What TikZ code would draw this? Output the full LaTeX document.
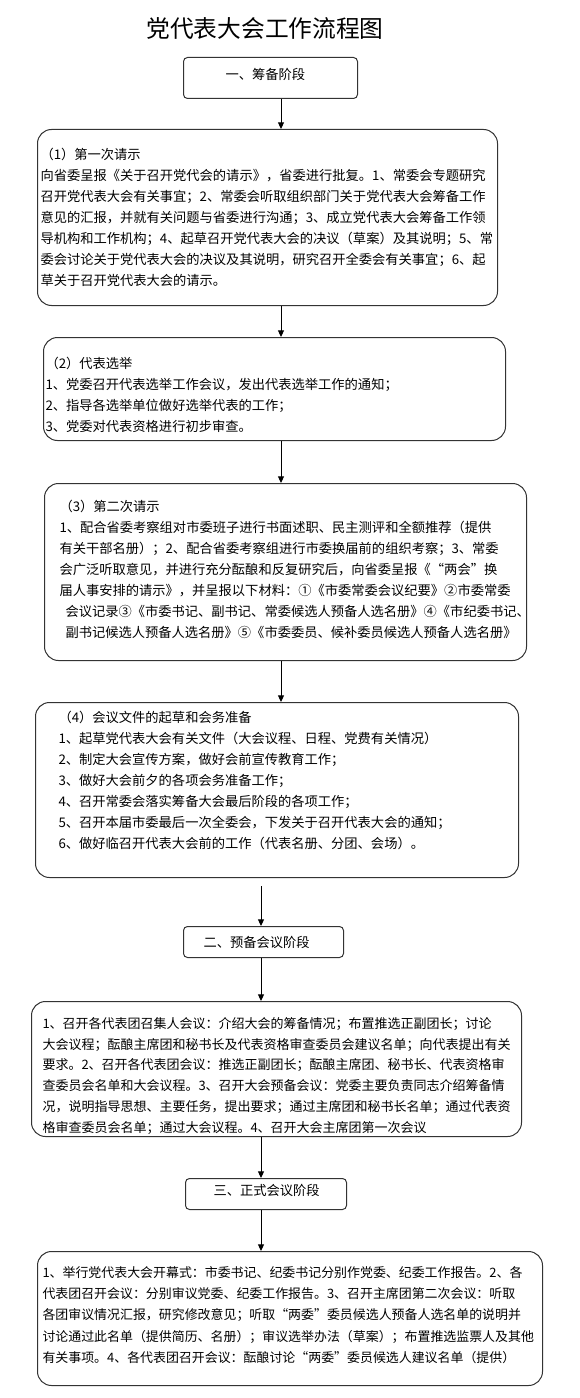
\documentclass[tikz,border=0pt]{standalone}
\usepackage{fontspec}
\setmainfont{Noto Sans CJK SC}
\usetikzlibrary{arrows.meta}
\setlength{\parindent}{0pt}
\newcommand{\padtop}[1]{\rule{0pt}{#1}}
\newcommand{\padbot}[1]{\rule[-#1]{0pt}{0pt}}
\begin{document}
\begin{tikzpicture}[x=0.75pt, y=-0.75pt, line width=0.75pt,
  stagebox/.style={draw=black!80, rounded corners=3pt, anchor=north west, align=left, inner ysep=0pt, font=\fontsize{9.95pt}{15.75pt}\selectfont},
  textbox/.style={draw=black!80, rounded corners=10.5pt, anchor=north west, align=left, inner ysep=0pt, font=\fontsize{9.95pt}{15.75pt}\selectfont},
  flow/.style={-{Triangle[width=4.5pt,length=5pt]}, black}]
  \useasboundingbox (0,0) rectangle (579,1398);
  \coordinate (upper) at (281,0); \coordinate (lower) at (261,0);
  \node[font=\fontsize{17.8pt}{22pt}\selectfont] (title) at (265,29) {党代表大会工作流程图};
  \node[stagebox, minimum width=130.5pt, minimum height=30.75pt, inner xsep=31.5pt, text width=67.5pt] (stage1) at (183,57) {一、筹备阶段\padbot{6.3pt}};
  \node[textbox, minimum width=345pt, minimum height=132pt, inner xsep=2.25pt, text width=340.5pt] (req1) at (37,129) {（1）第一次请示\\
    向省委呈报《关于召开党代会的请示》，省委进行批复。1、常委会专题研究\\
    召开党代表大会有关事宜；2、常委会听取组织部门关于党代表大会筹备工作\\
    意见的汇报，并就有关问题与省委进行沟通；3、成立党代表大会筹备工作领\\
    导机构和工作机构；4、起草召开党代表大会的决议（草案）及其说明；5、常\\
    委会讨论关于党代表大会的决议及其说明，研究召开全委会有关事宜；6、起\\
    草关于召开党代表大会的请示。};
  \node[textbox, minimum width=346.5pt, minimum height=77.25pt, inner xsep=1.5pt, text width=343.5pt] (req2) at (43,337) {\padtop{17pt}（2）代表选举\\
    1、党委召开代表选举工作会议，发出代表选举工作的通知；\\
    2、指导各选举单位做好选举代表的工作；\\
    3、党委对代表资格进行初步审查。};
  \node[textbox, minimum width=361.5pt, minimum height=132.75pt, inner xsep=11.25pt, text width=339pt] (req3) at (44,483) {（3）第二次请示\\
    1、配合省委考察组对市委班子进行书面述职、民主测评和全额推荐（提供\\
    有关干部名册）；2、配合省委考察组进行市委换届前的组织考察；3、常委\\
    会广泛听取意见，并进行充分酝酿和反复研究后，向省委呈报《“两会”换\\
    届人事安排的请示》，并呈报以下材料：①《市委常委会议纪要》②市委常委\\
    \hspace*{4.5pt}会议记录③《市委书记、副书记、常委候选人预备人选名册》④《市纪委书记、\\
    \hspace*{4.5pt}副书记候选人预备人选名册》⑤《市委委员、候补委员候选人预备人选名册》\padbot{5.5pt}};
  \node[textbox, minimum width=362.25pt, minimum height=131.25pt, inner xsep=17.25pt, text width=327.75pt] (req4) at (35,702) {（4）会议文件的起草和会务准备\\
    1、起草党代表大会有关文件（大会议程、日程、党费有关情况）\\
    2、制定大会宣传方案，做好会前宣传教育工作；\\
    3、做好大会前夕的各项会务准备工作；\\
    4、召开常委会落实筹备大会最后阶段的各项工作；\\
    5、召开本届市委最后一次全委会，下发关于召开代表大会的通知；\\
    6、做好临召开代表大会前的工作（代表名册、分团、会场）。\padbot{16pt}};
  \node[stagebox, minimum width=120pt, minimum height=23.25pt, inner xsep=15pt, text width=90pt] (stage2) at (183,926) {二、预备会议阶段};
  \node[textbox, minimum width=367.5pt, minimum height=101.25pt, inner xsep=8.25pt, text width=351pt, font=\fontsize{9.75pt}{15.6pt}\selectfont] (prep) at (31,1001) {\padtop{18.5pt}1、召开各代表团召集人会议：介绍大会的筹备情况；布置推选正副团长；讨论\\
    大会议程；酝酿主席团和秘书长及代表资格审查委员会建议名单；向代表提出有关\\
    要求。2、召开各代表团会议：推选正副团长；酝酿主席团、秘书长、代表资格审\\
    查委员会名单和大会议程。3、召开大会预备会议：党委主要负责同志介绍筹备情\\
    况，说明指导思想、主要任务，提出要求；通过主席团和秘书长名单；通过代表资\\
    格审查委员会名单；通过大会议程。4、召开大会主席团第一次会议};
  \node[stagebox, minimum width=120.75pt, minimum height=23.25pt, inner xsep=21pt, text width=78.75pt] (stage3) at (185,1178) {三、正式会议阶段\padbot{6.3pt}};
  \node[textbox, minimum width=378.75pt, minimum height=100.5pt, inner xsep=3.75pt, text width=371.25pt, font=\fontsize{9.7pt}{16pt}\selectfont] (formal) at (37,1251) {1、举行党代表大会开幕式：市委书记、纪委书记分别作党委、纪委工作报告。2、各\\
    代表团召开会议：分别审议党委、纪委工作报告。3、召开主席团第二次会议：听取\\
    各团审议情况汇报，研究修改意见；听取“两委”委员候选人预备人选名单的说明并\\
    讨论通过此名单（提供简历、名册）；审议选举办法（草案）；布置推选监票人及其他\\
    有关事项。4、各代表团召开会议：酝酿讨论“两委”委员候选人建议名单（提供）\padbot{6.3pt}};
  \foreach \a/\b in {stage1/req1, req1/req2, req2/req3, req3/req4}
    \draw[flow] (\a.south -| upper) -- (\b.north -| upper);
  \draw[flow, shorten <=6pt] (req4.south -| lower) -- (stage2.north -| lower);
  \foreach \a/\b in {stage2/prep, prep/stage3, stage3/formal}
    \draw[flow] (\a.south -| lower) -- (\b.north -| lower);
\end{tikzpicture}
\end{document}
